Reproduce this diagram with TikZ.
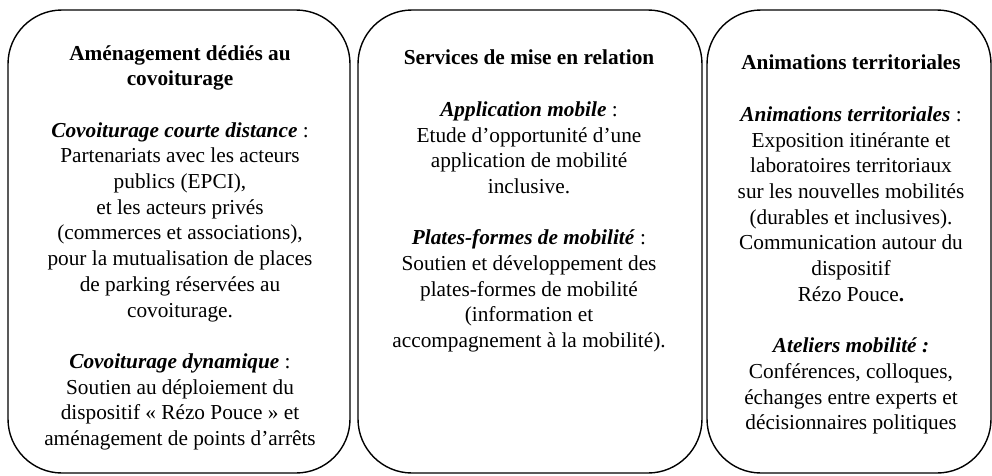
\documentclass[tikz,border=0pt]{standalone}
\usepackage{fontspec}
\setmainfont{Liberation Serif}
\usetikzlibrary{positioning}

\begin{document}
\begin{tikzpicture}[x=1pt,y=-1pt]
\tikzset{
  pillar/.style={draw,line width=1.4pt,rounded corners=54pt,inner sep=0pt},
  pillartext/.style={anchor=north,align=center,inner sep=0pt,font=\fontsize{21.3}{25.7}\selectfont}
}
\useasboundingbox (0,0) rectangle (992,475);
% the three boxes
\node (B1) at (179,241.5)[pillar,minimum width=342pt,minimum height=463pt] {};
\node (B2) at (530,241.5)[pillar,minimum width=344pt,minimum height=463pt] {};
\node (B3) at (849,241.5)[pillar,minimum width=284pt,minimum height=463pt] {};
% their texts
\node (T1) at (180,45)[pillartext] {\textbf{Aménagement dédiés au}\\ \textbf{covoiturage}\\[25.7pt]
  \textbf{\textit{Covoiturage courte distance}} :\\ Partenariats avec les acteurs\\ publics (EPCI),\\
  et les acteurs privés\\ (commerces et associations),\\ pour la mutualisation de places\\
  de parking réservées au\\ covoiturage.\\[25.7pt]
  \textbf{\textit{Covoiturage dynamique}} :\\ Soutien au déploiement du\\
  dispositif « Rézo Pouce » et\\ aménagement de points d’arrêts};
\node (T2) at (529,50)[pillartext] {\textbf{Services de mise en relation}\\[25.7pt]
  \textbf{\textit{Application mobile}} :\\ Etude d’opportunité d’une\\ application de mobilité\\
  inclusive.\\[25.7pt]
  \textbf{\textit{Plates-formes de mobilité}} :\\ Soutien et développement des\\
  plates-formes de mobilité\\ (information et\\ accompagnement à la mobilité).};
\node (T3) at (851,55)[pillartext] {\textbf{Animations territoriales}\\[25.7pt]
  \textbf{\textit{Animations territoriales}} :\\ Exposition itinérante et\\ laboratoires territoriaux\\
  sur les nouvelles mobilités\\ (durables et inclusives).\\ Communication autour du\\
  dispositif\\ Rézo Pouce\textbf{.}\\[25.7pt]
  \textbf{\textit{Ateliers mobilité :}}\\ Conférences, colloques,\\ échanges entre experts et\\
  décisionnaires politiques};
\end{tikzpicture}
\end{document}
